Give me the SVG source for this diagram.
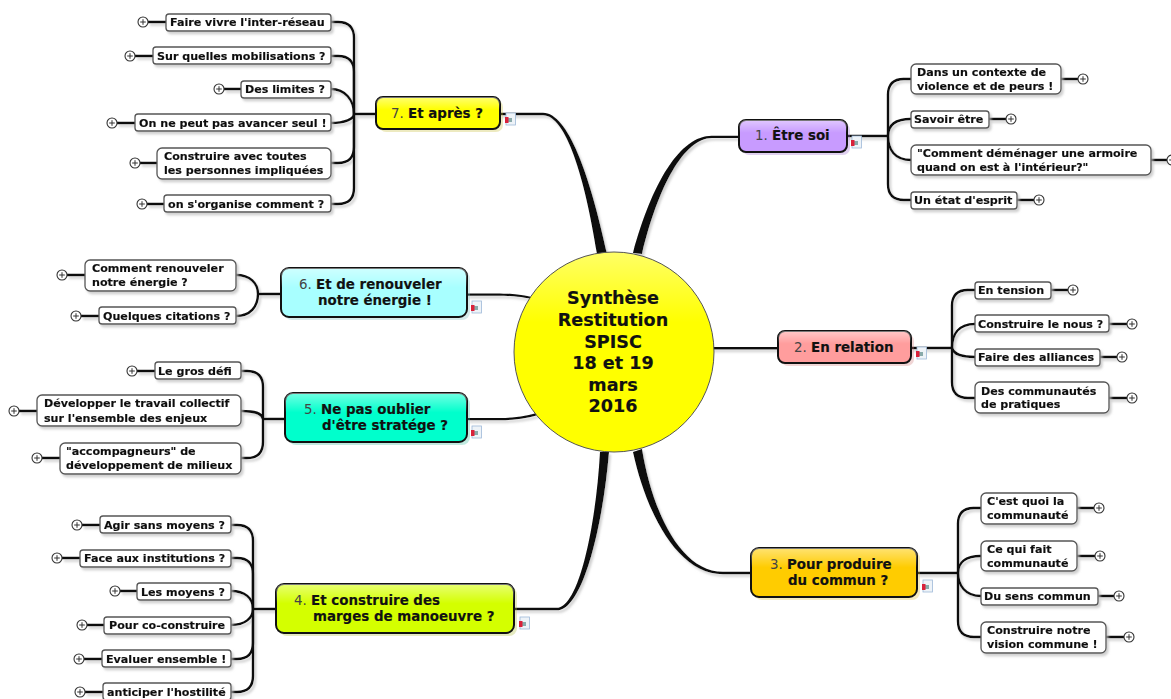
<svg xmlns="http://www.w3.org/2000/svg" xmlns:xlink="http://www.w3.org/1999/xlink" width="1171" height="699" viewBox="0 0 1171 699">
<style>
text{font-family:"DejaVu Sans","Liberation Sans",sans-serif;font-weight:bold;fill:#111;stroke:#111;stroke-width:.15}
.c text{font-size:11.12px}
.m text{font-size:13.4px}
.n{font-weight:normal;fill:#444;stroke:none}
.cr{fill:#fff;stroke:#555;stroke-width:1.3}
.mr{stroke:#111;stroke-width:2}
.ms{stroke:none;opacity:.33}
.w{fill:none;stroke:#111;stroke-width:2.4}
.t{fill:#0a0a0a;stroke:none}
.p{fill:#fff;stroke:#333;stroke-width:1.1}
.pl{stroke:#333;stroke-width:1;fill:none}
.ctr text{font-size:17.6px;text-anchor:middle}
</style>
<defs>
<filter id="sh" x="-10%" y="-20%" width="125%" height="150%"><feDropShadow dx="2" dy="2.5" stdDeviation=".9" flood-color="#bbb" flood-opacity=".7"/></filter>
<linearGradient id="gloss" x1="0" y1="0" x2="0" y2="1"><stop offset="0" stop-color="#fff" stop-opacity=".45"/><stop offset=".4" stop-color="#fff" stop-opacity="0"/></linearGradient>
<linearGradient id="ball" x1="0" y1="0" x2="0" y2="1"><stop offset="0" stop-color="#ffff66"/><stop offset=".35" stop-color="#ffff00"/></linearGradient>
<g id="doc"><rect x="1" y="0" width="9.5" height="12" fill="#eef3f8" stroke="#9db8d8" stroke-width=".8"/><rect x="3" y="5" width="4" height="4" fill="#8aa"/><rect x="0" y="4" width="3.5" height="6" fill="#d9213a"/></g>
<g id="plus"><circle class="p" r="5"/><path class="pl" d="M-2.8 0H2.800M0-2.800V2.800"/></g>
</defs>
<rect width="1171" height="699" fill="#fff"/>
<g id="connectors" filter="url(#sh)">
<path class="t" d="M633 253C652 183 680 135.700 712 135.700L739 135.700L739 138L712 138C684 138 658 187 642 254Z"/>
<path class="t" d="M500 112.800L543 112.800C568 112.800 590 175 607 254L597 254C585 178 566 115.300 543 115.300L500 115.300Z"/>
<path class="t" d="M633 452C646 512 677 574.200 723 574.200L751 574.200L751 571.800L723 571.800C680 571.800 652 510 642 449Z"/>
<path class="t" d="M600 452C596 525 579 607.800 557 607.800L514 607.800L514 610.300L557 610.300C583 610.300 603 525 609 452Z"/>
<path class="t" d="M467 293.500L495 293.500C510 293.500 520 294.500 532 297L532 299C520 296.500 510 295.700 495 295.700L467 295.700Z"/>
<path class="t" d="M467 418L498 418C515 418 525 416 537 413L538 415C525 418.500 515 420.300 498 420.300L467 420.300Z"/>
<path class="t" d="M712 347H778V349.500H712Z"/>
<path class="w" d="M847 136H888M888 136V95Q888 79 904 79H911M1061 79H1078"/>
<path class="w" d="M888 136C888 125 895 119 911 119M989 119H1006"/>
<path class="w" d="M888 136C888 150 895 160 911 160M1151 160H1167"/>
<path class="w" d="M888 136V184Q888 200 904 200H911M1017 200H1034"/>
<path class="w" d="M911 348H952M952 348V306Q952 290 968 290H975M1051 290H1068"/>
<path class="w" d="M952 348C952 335 958 324 975 324M1109 324H1127"/>
<path class="w" d="M952 348C954 354 960 357 975 357M1100 357H1117"/>
<path class="w" d="M952 348V382Q952 398 968 398H975M1109 398H1127"/>
<path class="w" d="M917 573H958M958 573V524Q958 508 974 508H981M1077 508H1094"/>
<path class="w" d="M958 573C958 563 965 556 981 556M1077 556H1095"/>
<path class="w" d="M958 573C958 585 965 596 981 596M1098 596H1114"/>
<path class="w" d="M958 573V621Q958 637 974 637H981M1106 637H1124"/>
<path class="w" d="M276 609H253M253 609V541Q253 525 237 525H231M100 525H82"/>
<path class="w" d="M253 609V574Q253 558 237 558H231M80 558H62"/>
<path class="w" d="M253 609C253 598 245 591 231 591M137 591H120"/>
<path class="w" d="M253 609C253 618 245 625 231 625M104 625H87"/>
<path class="w" d="M253 609V643Q253 659 237 659H231M102 659H84"/>
<path class="w" d="M253 609V676Q253 692 237 692H231M103 692H85"/>
<path class="w" d="M285 419H263M263 419V387Q263 371 247 371H241M155 371H137"/>
<path class="w" d="M263 419C262 413 255 411 241 411M37 411H19"/>
<path class="w" d="M263 419V442Q263 458 247 458H241M60 458H42"/>
<path class="w" d="M281 294H258M258 294C258 283 250 275 236 275M85 275H67"/>
<path class="w" d="M258 294C258 307 250 316 236 316M99 316H81"/>
<path class="w" d="M376 114H354M354 114V38Q354 22 338 22H331M166 22H148"/>
<path class="w" d="M354 114V72Q354 56 338 56H331M153 56H135"/>
<path class="w" d="M354 114C354 100 345 89 331 89M241 89H224"/>
<path class="w" d="M354 114C354 119 345 123 331 123M135 123H117"/>
<path class="w" d="M354 114V147Q354 163 338 163H331M157 163H140"/>
<path class="w" d="M354 114V188Q354 204 338 204H331M164 204H147"/>
</g>
<g id="center" class="ctr"><circle cx="614" cy="352" r="100" fill="url(#ball)" stroke="#555" stroke-width="1"/>
<text x="613" y="304">Synthèse</text><text x="613" y="326">Restitution</text><text x="613" y="348">SPISC</text><text x="613" y="369">18 et 19</text><text x="613" y="391">mars</text><text x="613" y="412">2016</text></g>

<g id="n1" class="m"><rect class="ms" x="742" y="123" width="108" height="32" rx="7" fill="#a070d0"/><rect class="mr" x="739" y="120" width="108" height="32" rx="7" fill="#c89bff"/><rect x="739" y="120" width="108" height="32" rx="7" fill="url(#gloss)"/><text x="755" y="140"><tspan class="n">1. </tspan>Être soi</text></g>
<g id="n2" class="m"><rect class="ms" x="781" y="334" width="133" height="32" rx="7" fill="#d08080"/><rect class="mr" x="778" y="331" width="133" height="32" rx="7" fill="#ff9d9d"/><rect x="778" y="331" width="133" height="32" rx="7" fill="url(#gloss)"/><text x="794" y="352"><tspan class="n">2. </tspan>En relation</text></g>
<g id="n3" class="m"><rect class="ms" x="754" y="551" width="166" height="49" rx="8" fill="#e0c040"/><rect class="mr" x="751" y="548" width="166" height="49" rx="8" fill="#ffcc00"/><rect x="751" y="548" width="166" height="49" rx="8" fill="url(#gloss)"/><text x="770" y="569"><tspan class="n">3. </tspan>Pour produire</text><text x="788" y="585">du commun ?</text></g>
<g id="n4" class="m"><rect class="ms" x="279" y="587" width="238" height="49" rx="8" fill="#b0c040"/><rect class="mr" x="276" y="584" width="238" height="49" rx="8" fill="#d4ff00"/><rect x="276" y="584" width="238" height="49" rx="8" fill="url(#gloss)"/><text x="294" y="605"><tspan class="n">4. </tspan>Et construire des</text><text x="313" y="621">marges de manoeuvre ?</text></g>
<g id="n5" class="m"><rect class="ms" x="288" y="396" width="182" height="49" rx="8" fill="#40c0a0"/><rect class="mr" x="285" y="393" width="182" height="49" rx="8" fill="#00ffcc"/><rect x="285" y="393" width="182" height="49" rx="8" fill="url(#gloss)"/><text x="304" y="414"><tspan class="n">5. </tspan>Ne pas oublier</text><text x="322" y="430">d'être stratége ?</text></g>
<g id="n6" class="m"><rect class="ms" x="284" y="271" width="186" height="49" rx="8" fill="#80c0c0"/><rect class="mr" x="281" y="268" width="186" height="49" rx="8" fill="#a8ffff"/><rect x="281" y="268" width="186" height="49" rx="8" fill="url(#gloss)"/><text x="299" y="289"><tspan class="n">6. </tspan>Et de renouveler</text><text x="318" y="305">notre énergie !</text></g>
<g id="n7" class="m"><rect class="ms" x="379" y="100" width="124" height="32" rx="7" fill="#c8c040"/><rect class="mr" x="376" y="97" width="124" height="32" rx="7" fill="#ffff00"/><rect x="376" y="97" width="124" height="32" rx="7" fill="url(#gloss)"/><text x="391" y="118"><tspan class="n">7. </tspan>Et après ?</text></g>

<g id="icons"><use href="#doc" x="851" y="136"/><use href="#doc" x="916" y="347"/><use href="#doc" x="922" y="580"/><use href="#doc" x="519" y="617"/><use href="#doc" x="471" y="426"/><use href="#doc" x="471" y="301"/><use href="#doc" x="505" y="113"/></g>

<g id="c11" class="c" filter="url(#sh)"><rect class="cr" x="911" y="64" width="150" height="30" rx="5"/><text x="917" y="76">Dans un contexte de</text><text x="917" y="90">violence et de peurs !</text></g>
<g id="c12" class="c" filter="url(#sh)"><rect class="cr" x="911" y="111" width="78" height="17" rx="3"/><text x="914" y="123">Savoir être</text></g>
<g id="c13" class="c" filter="url(#sh)"><rect class="cr" x="911" y="145" width="240" height="30" rx="5"/><text x="917" y="157">"Comment déménager une armoire</text><text x="917" y="171">quand on est à l'intérieur?"</text></g>
<g id="c14" class="c" filter="url(#sh)"><rect class="cr" x="911" y="192" width="106" height="17" rx="3"/><text x="914" y="204">Un état d'esprit</text></g>

<g id="c21" class="c" filter="url(#sh)"><rect class="cr" x="975" y="282" width="76" height="17" rx="3"/><text x="978" y="294">En tension</text></g>
<g id="c22" class="c" filter="url(#sh)"><rect class="cr" x="975" y="315" width="134" height="17" rx="3"/><text x="978" y="328">Construire le nous ?</text></g>
<g id="c23" class="c" filter="url(#sh)"><rect class="cr" x="975" y="349" width="125" height="17" rx="3"/><text x="978" y="361">Faire des alliances</text></g>
<g id="c24" class="c" filter="url(#sh)"><rect class="cr" x="975" y="382" width="134" height="31" rx="5"/><text x="981" y="395">Des communautés</text><text x="981" y="408">de pratiques</text></g>

<g id="c31" class="c" filter="url(#sh)"><rect class="cr" x="981" y="493" width="96" height="31" rx="5"/><text x="987" y="505">C'est quoi la</text><text x="987" y="519">communauté</text></g>
<g id="c32" class="c" filter="url(#sh)"><rect class="cr" x="981" y="541" width="96" height="30" rx="5"/><text x="987" y="553">Ce qui fait</text><text x="987" y="567">communauté</text></g>
<g id="c33" class="c" filter="url(#sh)"><rect class="cr" x="981" y="588" width="117" height="17" rx="3"/><text x="984" y="600">Du sens commun</text></g>
<g id="c34" class="c" filter="url(#sh)"><rect class="cr" x="981" y="622" width="125" height="31" rx="5"/><text x="987" y="634">Construire notre</text><text x="987" y="648">vision commune !</text></g>

<g id="c41" class="c" filter="url(#sh)"><rect class="cr" x="100" y="516" width="131" height="17" rx="3"/><text x="104" y="529">Agir sans moyens ?</text></g>
<g id="c42" class="c" filter="url(#sh)"><rect class="cr" x="80" y="550" width="151" height="17" rx="3"/><text x="84" y="562">Face aux institutions ?</text></g>
<g id="c43" class="c" filter="url(#sh)"><rect class="cr" x="137" y="583" width="94" height="17" rx="3"/><text x="141" y="596">Les moyens ?</text></g>
<g id="c44" class="c" filter="url(#sh)"><rect class="cr" x="104" y="617" width="127" height="17" rx="3"/><text x="109" y="629">Pour co-construire</text></g>
<g id="c45" class="c" filter="url(#sh)"><rect class="cr" x="102" y="650" width="129" height="17" rx="3"/><text x="106" y="663">Evaluer ensemble !</text></g>
<g id="c46" class="c" filter="url(#sh)"><rect class="cr" x="103" y="683" width="128" height="17" rx="3"/><text x="107" y="696">anticiper l'hostilité</text></g>

<g id="c51" class="c" filter="url(#sh)"><rect class="cr" x="155" y="362" width="86" height="17" rx="3"/><text x="158" y="375">Le gros défi</text></g>
<g id="c52" class="c" filter="url(#sh)"><rect class="cr" x="37" y="395" width="204" height="31" rx="5"/><text x="44" y="407">Développer le travail collectif</text><text x="44" y="422">sur l'ensemble des enjeux</text></g>
<g id="c53" class="c" filter="url(#sh)"><rect class="cr" x="60" y="443" width="181" height="31" rx="5"/><text x="66" y="455">"accompagneurs" de</text><text x="66" y="469">développement de milieux</text></g>

<g id="c61" class="c" filter="url(#sh)"><rect class="cr" x="85" y="260" width="151" height="31" rx="5"/><text x="92" y="272">Comment renouveler</text><text x="92" y="286">notre énergie ?</text></g>
<g id="c62" class="c" filter="url(#sh)"><rect class="cr" x="99" y="307" width="137" height="17" rx="3"/><text x="103" y="320">Quelques citations ?</text></g>

<g id="c71" class="c" filter="url(#sh)"><rect class="cr" x="166" y="14" width="165" height="17" rx="3"/><text x="170" y="26">Faire vivre l'inter-réseau</text></g>
<g id="c72" class="c" filter="url(#sh)"><rect class="cr" x="153" y="47" width="178" height="17" rx="3"/><text x="157" y="60">Sur quelles mobilisations ?</text></g>
<g id="c73" class="c" filter="url(#sh)"><rect class="cr" x="241" y="81" width="90" height="17" rx="3"/><text x="245" y="93">Des limites ?</text></g>
<g id="c74" class="c" filter="url(#sh)"><rect class="cr" x="135" y="114" width="196" height="17" rx="3"/><text x="139" y="127">On ne peut pas avancer seul !</text></g>
<g id="c75" class="c" filter="url(#sh)"><rect class="cr" x="157" y="148" width="174" height="31" rx="5"/><text x="164" y="160">Construire avec toutes</text><text x="164" y="174">les personnes impliquées</text></g>
<g id="c76" class="c" filter="url(#sh)"><rect class="cr" x="164" y="195" width="167" height="17" rx="3"/><text x="168" y="208">on s'organise comment ?</text></g>

<g id="expanders">
<use href="#plus" x="1083" y="79"/><use href="#plus" x="1011" y="119"/><use href="#plus" x="1172" y="160"/><use href="#plus" x="1039" y="200"/>
<use href="#plus" x="1073" y="290"/><use href="#plus" x="1132" y="324"/><use href="#plus" x="1122" y="357"/><use href="#plus" x="1132" y="398"/>
<use href="#plus" x="1099" y="508"/><use href="#plus" x="1100" y="556"/><use href="#plus" x="1119" y="596"/><use href="#plus" x="1129" y="637"/>
<use href="#plus" x="77" y="525"/><use href="#plus" x="57" y="558"/><use href="#plus" x="115" y="591"/><use href="#plus" x="82" y="625"/><use href="#plus" x="79" y="659"/><use href="#plus" x="80" y="692"/>
<use href="#plus" x="132" y="371"/><use href="#plus" x="14" y="411"/><use href="#plus" x="37" y="458"/>
<use href="#plus" x="62" y="275"/><use href="#plus" x="76" y="316"/>
<use href="#plus" x="143" y="22"/><use href="#plus" x="130" y="56"/><use href="#plus" x="219" y="89"/><use href="#plus" x="112" y="123"/><use href="#plus" x="135" y="163"/><use href="#plus" x="142" y="204"/>
</g>
</svg>
